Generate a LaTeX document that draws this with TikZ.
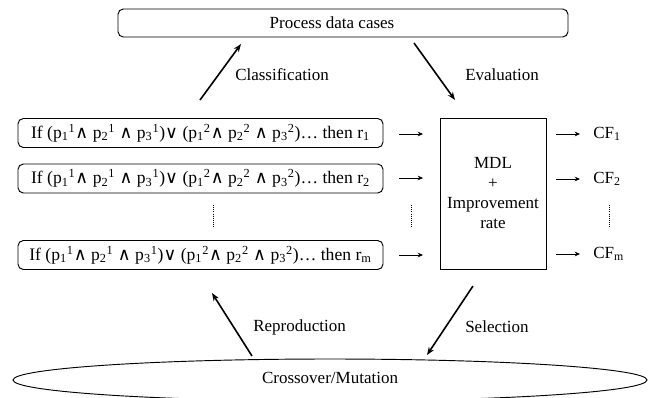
\documentclass[tikz,border=0pt]{standalone}
\usepackage{fontspec}
\setmainfont{Liberation Serif}
\newfontfamily\symfont{DejaVu Sans}
\usetikzlibrary{shapes.geometric,arrows.meta}
\newcommand\myand{{\symfont ∧}}
\newcommand\myor{{\symfont ∨}}
\newcommand\ruletext[1]{If (p\textsubscript{1}\textsuperscript{1}\myand{} p\textsubscript{2}\textsuperscript{1} \myand{} p\textsubscript{3}\textsuperscript{1})\myor{} (p\textsubscript{1}\textsuperscript{2}\myand{} p\textsubscript{2}\textsuperscript{2} \myand{} p\textsubscript{3}\textsuperscript{2})\ldots{} then r\textsubscript{#1}}
\begin{document}
\begin{tikzpicture}[x=0.75pt,y=-0.75pt,font=\fontsize{12.75}{15}\selectfont,
  rulebox/.style={draw,rounded corners=4pt,minimum width=273.75pt,minimum height=21.75pt,inner sep=0pt,line width=0.7pt,font=\fontsize{13.2}{15}\selectfont},
  bigarr/.style={-{Stealth[length=6pt,width=4.5pt]},line width=1.2pt},
  smallarr/.style={-{Stealth[length=4pt,width=3.5pt]},line width=0.6pt},
  dots/.style={densely dotted,line width=0.6pt},
  lbl/.style={anchor=west,inner sep=0pt}]
\useasboundingbox (0,0) rectangle (656,397);
\clip (0,0) rectangle (656,397);
% top box
\node[draw,rounded corners=4pt,minimum width=337.5pt,minimum height=21pt,inner sep=0pt,line width=0.7pt] (top) at (343,23) {};
\node[inner sep=0pt] (toptext) at (332,23) {Process data cases};
% rule boxes
\node[rulebox] (r1) at (200.5,133) {\ruletext{1}};
\node[rulebox] (r2) at (200.5,178.5) {\ruletext{2}};
\node[rulebox] (rm) at (200.5,255) {\ruletext{m}};
% MDL box
\node[draw,minimum width=79.5pt,minimum height=113.25pt,inner sep=0pt,align=center,line width=0.6pt] (mdl) at (493,193.5) {MDL\\+\\Improvement\\rate};
% CF labels
\node[lbl] (cf1) at (593,134) {CF\textsubscript{1}};
\node[lbl] (cf2) at (593,179) {CF\textsubscript{2}};
\node[lbl] (cfm) at (593,254) {CF\textsubscript{m}};
% ellipse
\node[draw,ellipse,minimum width=475.5pt,minimum height=31.5pt,inner sep=0pt,line width=0.7pt] (co) at (330,380) {};
\node[inner sep=0pt] (cotext) at (330,378) {Crossover/Mutation};
% small arrows
\coordinate (a1s) at (399,134); \coordinate (a1e) at (423,134);
\coordinate (a2s) at (399,178); \coordinate (a2e) at (423,178);
\coordinate (a3s) at (399,255); \coordinate (a3e) at (423,255);
\draw[smallarr] (a1s) -- (a1e);
\draw[smallarr] (a2s) -- (a2e);
\draw[smallarr] (a3s) -- (a3e);
\coordinate (b1s) at (556,134); \coordinate (b1e) at (580,134);
\coordinate (b2s) at (556,179); \coordinate (b2e) at (580,179);
\coordinate (b3s) at (556,254); \coordinate (b3e) at (580,254);
\draw[smallarr] (b1s) -- (b1e);
\draw[smallarr] (b2s) -- (b2e);
\draw[smallarr] (b3s) -- (b3e);
% dotted
\coordinate (d1s) at (213,205); \coordinate (d1e) at (213,227);
\coordinate (d2s) at (411,205); \coordinate (d2e) at (411,227);
\coordinate (d3s) at (609,205); \coordinate (d3e) at (609,227);
\draw[dots] (d1s) -- (d1e);
\draw[dots] (d2s) -- (d2e);
\draw[dots] (d3s) -- (d3e);
% big arrows
\coordinate (cls) at (200,100); \coordinate (cle) at (241,44);
\coordinate (evs) at (414,43); \coordinate (eve) at (455,100);
\coordinate (res) at (252,356); \coordinate (ree) at (212,293);
\coordinate (ses) at (473,286); \coordinate (see) at (427,355);
\draw[bigarr] (cls) -- (cle);
\draw[bigarr] (evs) -- (eve);
\draw[bigarr] (res) -- (ree);
\draw[bigarr] (ses) -- (see);
\node[lbl] (lcl) at (235,75) {Classification};
\node[lbl] (lev) at (465,75) {Evaluation};
\node[lbl] (lre) at (253,327) {Reproduction};
\node[lbl] (lse) at (465,327) {Selection};
\end{tikzpicture}
\end{document}
